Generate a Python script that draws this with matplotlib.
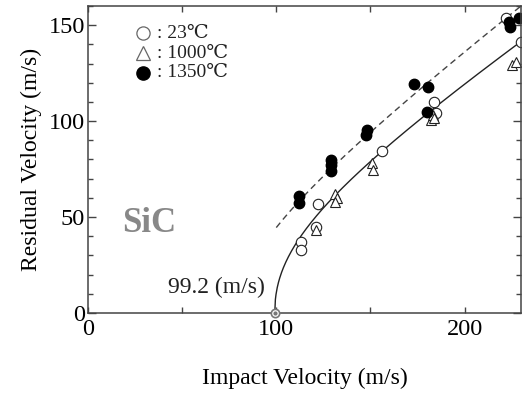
#SiC residual velocity vs impact velocity
import matplotlib
matplotlib.use("Agg")
import matplotlib.pyplot as plt
import numpy as np

#--------Data--------
#23 C : open circles
Imp23 = [113, 113, 121, 122, 156, 184, 185, 222, 230]
Res23 = [37, 33, 45, 57, 84.5, 110, 104, 154, 141]
#1000 C : open triangles
Imp1000 = [121, 131, 132, 131, 151, 151.5, 182, 183, 184, 225, 227.5]
Res1000 = [43.5, 62, 60, 58, 78, 74.5, 100.5, 103, 101.5, 129, 131]
#1350 C : filled circles
Imp1350 = [112, 112, 129, 129, 129, 147.5, 148, 173, 180.5, 180, 223.5, 224, 229]
Res1350 = [61, 57.5, 79.5, 77, 74, 93, 95.5, 119.5, 118, 105, 151.5, 149, 154]

#Lambert-Jonas fit parameters  Vr = a*(Vi^p - Vbl^p)^(1/p)
Vbl = 99.2
FitA, FitP = 0.665, 2.2          #solid line (23/1000 C)
DashA, DashP, DashVb = 0.742, 2.0, 80.0   #dashed line (1350 C)
DashStart = 100

LegendLabels = [": 23\u2103", ": 1000\u2103", ": 1350\u2103"]
#------------------------------------------

plt.rcParams['font.family'] = ['Liberation Serif', 'DejaVu Serif']

Fig = plt.figure(figsize=(5.23, 3.94), dpi=100)
Ax = Fig.add_axes([0.1683, 0.2056, 0.8279, 0.7792])

def LJ(V, a, p, vb):
    return a * np.clip(V**p - vb**p, 0, None)**(1.0 / p)

Vs = np.linspace(Vbl, 230, 400)
Ax.plot(Vs, LJ(Vs, FitA, FitP, Vbl), color='#222222', lw=1.0)
Vd = np.linspace(DashStart, 230, 200)
Ax.plot(Vd, LJ(Vd, DashA, DashP, DashVb), color='#444444', lw=1.0, dashes=(4.5, 3))

Ax.plot(Imp23, Res23, 'o', ms=7.5, mfc='white', mec='#222222', mew=0.8, ls='none')
Ax.plot(Imp1000, Res1000, '^', ms=7.5, mfc='white', mec='#222222', mew=0.8, ls='none')
Ax.plot(Imp1350, Res1350, 'o', ms=7.5, mfc='black', mec='black', ls='none')

#ballistic limit marker
Ax.plot([Vbl], [0], 'o', ms=6, mfc='white', mec='#777777', mew=1.2, clip_on=False, zorder=5)
Ax.plot([Vbl], [0], 'o', ms=2, color='#777777', clip_on=False, zorder=6)
Ax.text(94, 13.5, "99.2 (m/s)", fontsize=17, ha='right', va='center', color='#222222')

Ax.text(32.4, 46.4, "SiC", fontsize=25, fontweight='bold', color='#888888',
        ha='center', va='center')

#legend, drawn by hand
LegY = [0.911, 0.846, 0.783]
Ax.plot([0.128], [LegY[0]], 'o', ms=9.5, mfc='white', mec='#666666', mew=0.9, transform=Ax.transAxes)
Ax.plot([0.128], [LegY[1]], '^', ms=10, mfc='white', mec='#666666', mew=0.9, transform=Ax.transAxes)
Ax.plot([0.128], [LegY[2]], 'o', ms=9.5, mfc='black', mec='black', transform=Ax.transAxes)
for i in range(0, 3):
    Ax.text(0.16, LegY[i], LegendLabels[i], fontsize=14, ha='left', va='center',
            transform=Ax.transAxes, color='#222222')

Ax.set_xlim(0, 230)
Ax.set_ylim(0, 160)
Ax.set_xticks([0, 50, 100, 150, 200])
Ax.set_xticklabels(['0', '', '100', '', '200'])
Ax.set_yticks([0, 50, 100, 150])
Ax.set_yticks(np.arange(0, 161, 10), minor=True)
Ax.tick_params(which='both', direction='in', top=True, right=True, color='#444444', width=1.0)
Ax.tick_params(which='major', axis='y', length=6, labelsize=17.5, pad=2)
Ax.tick_params(which='minor', axis='y', length=3.5)
Ax.tick_params(which='major', axis='x', length=4, labelsize=17.5, pad=4.5)
for S in Ax.spines.values():
    S.set_color('#444444')
    S.set_linewidth(1.1)

Ax.set_xlabel("Impact Velocity (m/s)", fontsize=17, labelpad=20)
Ax.set_ylabel("Residual Velocity (m/s)", fontsize=17, labelpad=5)

Fig.savefig("out.png", dpi=100)
